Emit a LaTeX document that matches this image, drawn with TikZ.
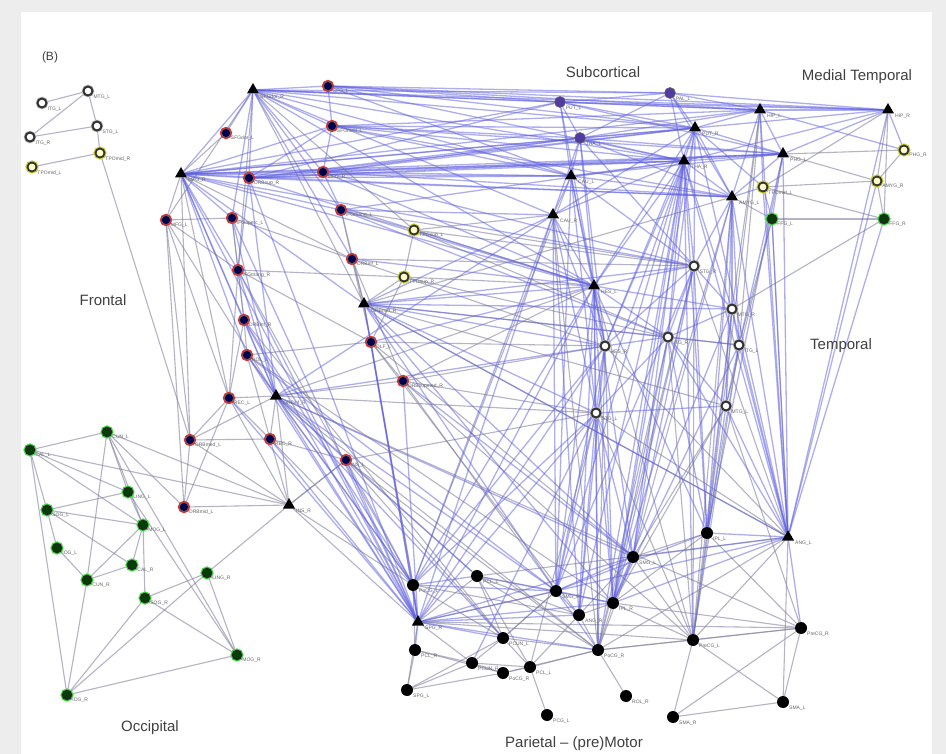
\documentclass[tikz,border=0pt]{standalone}
\usepackage{fontspec}
\setmainfont{Liberation Sans}
\usetikzlibrary{shapes.geometric}
\pgfdeclarelayer{bg}
\pgfsetlayers{bg,main}
\definecolor{edgeblue}{RGB}{95,95,225}
\definecolor{edgegray}{RGB}{130,130,160}
\definecolor{purp}{RGB}{80,60,160}
\definecolor{nodered}{RGB}{225,45,45}
\definecolor{nodeyel}{RGB}{200,205,40}
\definecolor{nodegrn}{RGB}{60,220,60}
\newcommand\mknode[5]{\node[#2,label={[lbl]-30:#5}] (#1) at (#3,#4) {};}
\begin{document}
\begin{tikzpicture}[x=1pt,y=-1pt,
  tri/.style={regular polygon,regular polygon sides=3,fill=black,inner sep=0pt,minimum size=14pt},
  rednd/.style={circle,inner sep=0pt,minimum size=9pt,fill=black!70!blue,draw=black!60,line width=0.6pt,preaction={draw=nodered,line width=3.2pt}},
  ring/.style={circle,inner sep=0pt,minimum size=9pt,fill=white,draw=black!80,line width=2pt,preaction={draw=black!25,line width=3.6pt}},
  yring/.style={circle,inner sep=0pt,minimum size=9pt,fill=white!80!yellow,draw=black!80,line width=1.8pt,preaction={draw=nodeyel,line width=4pt}},
  gring/.style={circle,inner sep=0pt,minimum size=9pt,fill=black!75!green,draw=black!85,line width=1.6pt,preaction={draw=nodegrn,line width=4pt}},
  purnd/.style={circle,inner sep=0pt,minimum size=11pt,fill=purp,draw=black!60,line width=0.6pt},
  blk/.style={circle,inner sep=0pt,minimum size=12pt,fill=black},
  lbl/.style={font=\fontsize{5}{6}\selectfont,text=black!60,inner sep=0.6pt},
  be/.style={draw=edgeblue,opacity=0.5,line width=1.3pt},
  ge/.style={draw=edgegray,opacity=0.6,line width=1.1pt},
  region/.style={font=\fontsize{15}{18}\selectfont,text=black!75}]
\useasboundingbox (0,0) rectangle (946,754);
\begin{pgfonlayer}{bg}
\fill[black!7] (0,0) rectangle (946,754);
\fill[white] (21,12) rectangle (932,754);
\end{pgfonlayer}
% top-left cluster
\mknode{g1}{ring}{42}{103}{ITG\_L}
\mknode{g2}{ring}{88}{91}{MTG\_L}
\mknode{g3}{ring}{30}{137}{ITG\_R}
\mknode{g4}{ring}{97}{126}{STG\_L}
\mknode{y1}{yring}{32}{167}{TPOmid\_L}
\mknode{y2}{yring}{100}{153}{TPOmid\_R}
% frontal
\mknode{r1}{rednd}{328}{86}{SFG\_L}
\mknode{r2}{rednd}{226}{133}{SFGdor\_L}
\mknode{r3}{rednd}{332}{126}{SFGmed\_L}
\mknode{r4}{rednd}{249}{178}{ORBsup\_R}
\mknode{r5}{rednd}{323}{172}{MFG\_R}
\mknode{r6}{rednd}{166}{220}{MFG\_L}
\mknode{r7}{rednd}{232}{218}{IFGoperc\_L}
\mknode{r8}{rednd}{341}{210}{IFGtriang\_L}
\mknode{r9}{rednd}{238}{270}{IFGtriang\_R}
\mknode{r10}{rednd}{352}{259}{ORBinf\_L}
\mknode{r11}{rednd}{244}{320}{ORBinf\_R}
\mknode{r12}{rednd}{247}{355}{ROL\_L}
\mknode{r13}{rednd}{371}{342}{OLF\_L}
\mknode{r14}{rednd}{403}{381}{ORBsupmed\_R}
\mknode{r15}{rednd}{229}{398}{REC\_L}
\mknode{r16}{rednd}{190}{440}{ORBmed\_L}
\mknode{r17}{rednd}{270}{439}{REC\_R}
\mknode{r18}{rednd}{346}{460}{INS\_L}
\mknode{r19}{rednd}{184}{507}{ORBmid\_L}
\mknode{t1}{tri}{253}{90}{SFGdor\_R}
\mknode{t2}{tri}{181}{174}{MFG\_R}
\mknode{t3}{tri}{364}{304}{ORBmid\_R}
\mknode{t4}{tri}{276}{396}{ORBinf\_R}
\mknode{t5}{tri}{289}{505}{INS\_R}
\mknode{y3}{yring}{414}{230}{TPOsup\_L}
\mknode{y4}{yring}{404}{277}{TPOsup\_R}
% subcortical / medial temporal
\mknode{p1}{purnd}{560}{102}{PUT\_L}
\mknode{p2}{purnd}{670}{93}{PAL\_L}
\mknode{p3}{purnd}{580}{138}{THA\_L}
\mknode{t6}{tri}{571}{176}{CAU\_L}
\mknode{t7}{tri}{695}{128}{PUT\_R}
\mknode{t8}{tri}{684}{161}{THA\_R}
\mknode{t9}{tri}{553}{215}{CAU\_R}
\mknode{t10}{tri}{760}{110}{HIP\_L}
\mknode{t11}{tri}{783}{154}{PHG\_L}
\mknode{t12}{tri}{732}{197}{AMYG\_L}
\mknode{t13}{tri}{888}{110}{HIP\_R}
\mknode{y5}{yring}{904}{150}{PHG\_R}
\mknode{y6}{yring}{877}{181}{AMYG\_R}
\mknode{y7}{yring}{763}{187}{TPOmid\_L}
\mknode{gr1}{gring}{772}{219}{FFG\_L}
\mknode{gr2}{gring}{884}{219}{FFG\_R}
% temporal
\mknode{t14}{tri}{594}{286}{HES\_L}
\mknode{w1}{ring}{694}{266}{STG\_R}
\mknode{w2}{ring}{732}{309}{MTG\_R}
\mknode{w3}{ring}{605}{346}{HES\_R}
\mknode{w4}{ring}{668}{337}{ITG\_R}
\mknode{w5}{ring}{739}{345}{ITG\_L}
\mknode{w6}{ring}{596}{413}{STG\_L}
\mknode{w7}{ring}{726}{406}{MTG\_L}
% parietal - (pre)motor
\mknode{b1}{blk}{707}{533}{IPL\_L}
\mknode{t15}{tri}{788}{537}{ANG\_L}
\mknode{b2}{blk}{633}{557}{SMG\_L}
\mknode{b3}{blk}{413}{585}{PoCG\_L}
\mknode{b4}{blk}{477}{576}{PCL\_L}
\mknode{b5}{blk}{556}{591}{SMG\_R}
\mknode{b6}{blk}{613}{603}{IPL\_R}
\mknode{b7}{blk}{579}{615}{ANG\_R}
\mknode{t16}{tri}{418}{622}{SPG\_R}
\mknode{b8}{blk}{415}{650}{PCL\_R}
\mknode{b9}{blk}{503}{638}{PCUN\_L}
\mknode{b10}{blk}{472}{663}{PCUN\_R}
\mknode{b11}{blk}{530}{667}{PCL\_L}
\mknode{b12}{blk}{598}{650}{PoCG\_R}
\mknode{b13}{blk}{693}{640}{PreCG\_L}
\mknode{b14}{blk}{801}{628}{PreCG\_R}
\mknode{b15}{blk}{407}{690}{SPG\_L}
\mknode{b16}{blk}{503}{673}{PoCG\_R}
\mknode{b17}{blk}{626}{696}{ROL\_R}
\mknode{b18}{blk}{547}{715}{PCG\_L}
\mknode{b19}{blk}{673}{717}{SMA\_R}
\mknode{b20}{blk}{783}{702}{SMA\_L}
% occipital
\mknode{o1}{gring}{30}{450}{CAL\_L}
\mknode{o2}{gring}{107}{432}{CUN\_L}
\mknode{o3}{gring}{128}{492}{LING\_L}
\mknode{o4}{gring}{47}{510}{SOG\_L}
\mknode{o5}{gring}{143}{525}{MOG\_L}
\mknode{o6}{gring}{57}{548}{IOG\_L}
\mknode{o7}{gring}{132}{565}{CAL\_R}
\mknode{o8}{gring}{87}{580}{CUN\_R}
\mknode{o9}{gring}{207}{573}{LING\_R}
\mknode{o10}{gring}{145}{598}{SOG\_R}
\mknode{o11}{gring}{237}{655}{MOG\_R}
\mknode{o12}{gring}{67}{695}{IOG\_R}
% region titles
\node[font=\fontsize{12}{14}\selectfont,text=black!75] (ttlB) at (50,57) {(B)};
\node[region] (ttlF) at (103,300) {Frontal};
\node[region] (ttlS) at (603,72) {Subcortical};
\node[region] (ttlM) at (857,77) {Medial Temporal};
\node[region] (ttlT) at (841,346) {Temporal};
\node[region] (ttlO) at (150,728) {Occipital};
\node[region] (ttlP) at (574,744) {Parietal -- (pre)Motor};
\begin{pgfonlayer}{bg}
% gray edges
\foreach \a/\b in {g1/g2,g2/g4,g3/g2,g3/g4,g4/y2,y1/y2,y2/r16,
 t1/r6,t1/r9,t1/t3,t1/y3,t2/r6,t2/r15,t2/r16,t2/r10,t2/r2,
 r6/r15,r6/r16,r6/r19,r6/r9,r6/r7,r6/t4,r7/r9,r7/r11,r7/r10,r9/r11,r9/r15,r9/y4,r9/r13,
 r10/t3,r10/r13,r10/y4,r10/r14,r11/r12,r11/r15,r12/r17,r12/r13,r13/r14,r13/y4,
 r14/w3,r14/w6,r14/t14,r14/b13,r8/y3,r8/r10,r8/w1,r8/t3,y3/y4,y3/t14,y3/w1,y3/w4,y3/t9,
 y4/t3,y4/t14,y4/w3,y4/w4,t3/w5,t3/w7,t3/b3,t3/t12,
 r15/t4,r15/r16,r15/r17,r15/t5,r15/r19,t4/r17,t4/r18,t4/t5,t4/r16,t4/t14,t4/w6,t4/r14,t4/b14,
 r16/r19,r16/t5,r16/r17,r17/t5,r17/r18,r18/t5,r18/b4,r18/w6,r18/b12,r19/t5,r19/o2,
 t5/o1,t5/o2,t5/o9,t5/t16,t5/b3,t5/r18,
 o1/o2,o1/o3,o1/o4,o1/o5,o1/o12,o2/o3,o2/o5,o2/o8,o2/o11,o3/o4,o3/o5,o4/o5,o4/o6,o4/o7,
 o5/o7,o5/o8,o7/o8,o5/o10,o8/o12,o9/o10,o9/o12,o10/o12,o10/o11,o9/o11,o11/o12,o3/o11,o6/o8,
 y5/y6,t11/y5,t11/y6,y6/gr2,y6/y7,y7/gr1,y7/gr2,gr1/gr2,gr1/t15,gr2/w2,t13/y6,t13/gr2,
 t11/gr1,t13/y7,t10/w2,t10/w5,t12/gr1,t12/b13,gr1/w5,gr1/w7,
 t15/b13,t15/b12,t15/b4,t15/t3,t15/b20,t15/w1,t15/w6,t15/w3,
 b1/b2,b1/b13,b1/b14,b2/b13,b2/b12,b3/b8,b3/b9,b4/b5,b4/t16,b4/b9,b4/b11,b5/b9,b5/t16,
 b6/b7,b6/b13,b6/b14,b6/b12,b7/b12,b7/b11,t16/b10,t16/b15,t16/b13,t16/b14,
 b8/b15,b8/b10,b8/b16,b9/b10,b9/b11,b9/b12,b10/b16,b10/b15,b10/b11,b11/b18,b11/b16,b11/b12,
 b12/b17,b12/b13,b12/b14,b12/b16,b13/b19,b13/b14,b13/b20,b14/b20,b14/b19,b15/b16,b15/b9,b19/b20,
 w1/b12,w4/b12,w4/b13,w7/b6,w7/b2,w7/b14,w2/w7,w5/b1,w6/b11,r13/b2,r12/b6,t4/b12,r14/b5,r13/b7,
 r11/b9,r9/b3,r17/b3,r18/b9,r12/b3,r10/w1,r13/w3,b3/b7,b4/b7,b4/b12,b1/b6,b9/b5,b2/b7,
 w1/b13,w5/b13,w3/b12,w6/b13,t9/b12,t6/b3,t12/b2,t10/b1,w2/b13,t14/b13}
 \draw[ge] (\a) -- (\b);
% blue edges
\foreach \a/\b in {t1/r1,t1/r2,t1/r3,t1/t2,t1/r4,t1/r5,t1/r7,t1/r8,t1/p1,t1/p2,t1/t7,t1/t10,t1/t13,t1/t6,t1/t8,t1/r10,t1/t14,t1/t9,
 t2/r4,t2/r5,t2/r7,t2/r9,t2/t4,t2/p3,t2/t6,t2/t8,t2/t11,t2/t7,t2/t12,t2/r8,t2/r3,t2/r11,t2/r12,t2/t14,t2/w1,t2/t3,t2/p1,t2/t10,
 r1/r3,r1/p1,r1/p2,r1/t10,r1/t13,r1/t7,r1/t6,r1/t8,r3/r5,r3/p3,r3/t7,r3/t8,r3/t10,r3/r4,r3/t6,r3/t11,r3/t12,
 r4/r5,r4/t6,r4/t8,r4/t11,r4/t12,r4/p3,r4/r9,r4/t4,r4/t16,r4/t14,r4/t7,r4/p1,
 r5/t8,r5/t11,r5/t12,r5/t6,r5/r8,r5/t14,r5/w1,r5/t7,r5/p3,r8/t9,r8/t8,r8/w4,r8/t14,
 t3/t14,t3/w1,t3/w2,t3/w3,t3/w4,t3/w6,t3/t16,t3/b3,t3/t15,t3/t9,t3/b5,t3/b2,t3/b6,
 t4/t16,t4/b3,t4/b9,t4/b4,t4/r12,t4/r11,t4/r9,t4/r7,t4/b5,t4/b2,t4/w3,t4/t9,
 t16/r11,t16/r12,t16/r13,t16/r14,t16/r9,t16/r18,t16/t2,t16/r7,t16/t9,t16/w3,t16/w6,t16/t14,t16/b3,t16/r17,t16/r15,
 r12/b5,r11/b3,r18/b3,r13/t14,r14/b2,r10/t14,
 p1/p2,p1/p3,p1/t10,p1/t13,p1/t7,p1/t6,p1/t11,p1/t14,p2/t10,p2/t13,p2/t7,p2/p3,p2/t8,p2/t12,
 p3/t7,p3/t8,p3/t10,p3/t11,p3/t6,p3/t9,p3/t12,p3/t14,p3/w1,p3/w3,
 t6/t8,t6/t9,t6/t14,t6/w3,t6/w1,t6/t11,t6/t12,t6/w6,t6/b5,
 t7/t10,t7/t13,t7/t8,t7/t11,t7/t12,t7/y7,t7/w1,t7/t9,t7/t14,t7/b6,t7/w4,t7/w3,
 t8/t11,t8/t12,t8/t13,t8/t9,t8/w1,t8/w4,t8/w2,t8/b2,t8/w6,t8/t14,t8/b6,t8/b5,t8/b1,t8/w3,t8/b7,t8/b12,t8/b13,
 t10/t13,t10/t11,t10/y5,t10/y7,t10/t12,t11/t13,t11/t12,t11/w5,t11/t15,t11/b1,
 t12/y7,t12/w1,t12/w2,t12/w5,t12/w7,t12/t15,t12/b1,t12/b6,t13/t15,t13/y5,
 t9/t14,t9/w3,t9/b3,t9/b5,t9/w6,t9/b7,
 t14/w1,t14/w3,t14/w4,t14/w6,t14/w2,t14/b3,t14/b2,t14/b5,t14/b7,t14/b12,t14/b6,t14/b1,
 w1/w2,w1/w4,w1/w3,w1/b2,w1/b6,w1/b5,w1/b1,w2/w5,w2/w4,w2/b1,w2/t15,w2/b6,
 w3/w4,w3/w6,w3/b3,w3/b5,w3/b7,w3/b6,w4/w5,w4/w6,w4/w7,w4/b2,w4/b6,w4/b1,w5/w7,w5/t15,w5/b6,
 w6/w7,w6/b3,w6/b5,w6/b7,w6/b10,w6/b6,w6/b12,w6/b2,w7/t15,w7/b13,
 t15/b1,t15/b2,t15/b6,t15/b14,t15/b5,t15/t10,t15/gr1,t15/y7,t15/gr2,t15/y6,t15/t8,t15/t7,t15/w4,
 b3/t16,b3/b4,b3/b5,t16/b8,t16/b9,t16/b12,t16/b7,t16/b5,t16/b6,t16/b2,b4/b6,b5/b6,b5/b7,b5/b12,b2/b6,b2/b5,b1/b5}
 \draw[be] (\a) -- (\b);
\end{pgfonlayer}
\end{tikzpicture}
\end{document}
